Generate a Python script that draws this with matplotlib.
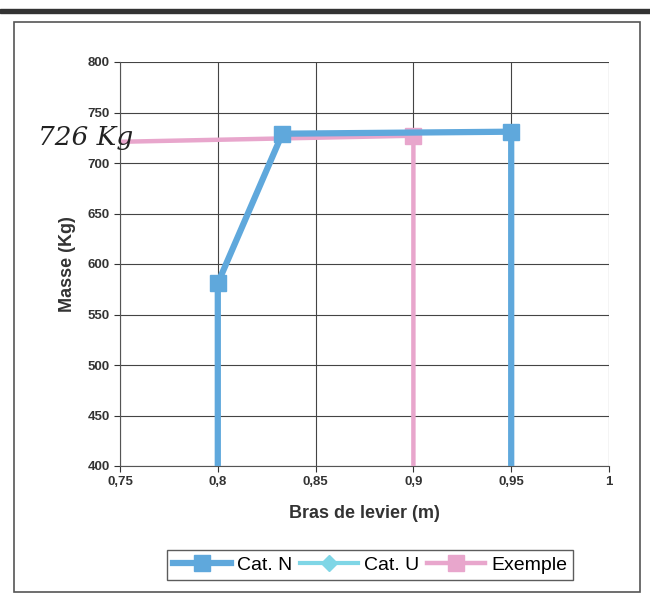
import matplotlib
matplotlib.use("Agg")
import matplotlib.pyplot as plt
from matplotlib.patches import Rectangle

plt.rcParams['font.family'] = ['Liberation Sans', 'DejaVu Sans']

# data
cat_n_x = [0.80, 0.80, 0.833, 0.95, 0.95]
cat_n_y = [400, 581, 729, 731, 400]
cat_u_x = []
cat_u_y = []
ex_x = [0.75, 0.90, 0.90]
ex_y = [721, 727, 400]

xticks = [0.75, 0.8, 0.85, 0.9, 0.95, 1.0]
xticklabels = ['0,75', '0,8', '0,85', '0,9', '0,95', '1']
yticks = [400, 450, 500, 550, 600, 650, 700, 750, 800]

blue = '#5fa8dc'
cyan = '#7fd6e6'
pink = '#e8a6cc'

fig = plt.figure(figsize=(6.5, 5.99), dpi=100)
ax = fig.add_axes([120/650, 1 - 466/599, 489/650, 404/599])

ax.plot(cat_n_x, cat_n_y, color=blue, lw=4.5, marker='s', ms=11,
        markevery=[1, 2, 3], label='Cat. N', zorder=4)
ax.plot(cat_u_x, cat_u_y, color=cyan, lw=3, marker='D', ms=8, label='Cat. U')
ax.plot(ex_x, ex_y, color=pink, lw=3.2, marker='s', ms=11,
        markevery=[1], label='Exemple', zorder=3)

ax.set_xlim(0.75, 1.0)
ax.set_ylim(400, 800)
ax.set_xticks(xticks)
ax.set_xticklabels(xticklabels)
ax.set_yticks(yticks)
ax.grid(True, color='#444444', lw=0.8)
ax.set_axisbelow(True)
for s in ['top', 'right']:
    ax.spines[s].set_visible(False)
ax.spines['left'].set_color('#555555')
ax.spines['bottom'].set_color('#555555')
ax.tick_params(labelsize=9.5, colors='#333333', length=4)
for lab in ax.get_xticklabels() + ax.get_yticklabels():
    lab.set_fontweight('bold')

ax.set_xlabel('Bras de levier (m)', fontsize=13, fontweight='bold',
              color='#333333', labelpad=12)
ax.set_ylabel('Masse (Kg)', fontsize=13, fontweight='bold',
              color='#333333', labelpad=8)

# handwritten note
fig.text(38/650, 1 - 138/599, '726 Kg', fontsize=19, style='italic',
         color='#222222', ha='left', va='center', family='DejaVu Serif')

fig.legend(loc='center', bbox_to_anchor=(370/650, 1 - 565/599), ncol=3,
           fontsize=14, frameon=True, fancybox=False, edgecolor='#333333',
           handlelength=3, columnspacing=0.4, handletextpad=0.3,
           borderpad=0.3)

# chart border
fig.patches.append(Rectangle((14/650, 1 - 592/599), 626/650, 570/599,
                             transform=fig.transFigure, fill=False,
                             edgecolor='#555555', lw=1.2))
fig.patches.append(Rectangle((0, 1 - 13/599), 1, 4/599,
                             transform=fig.transFigure, color='#333333'))

fig.savefig('out.png', dpi=100)
